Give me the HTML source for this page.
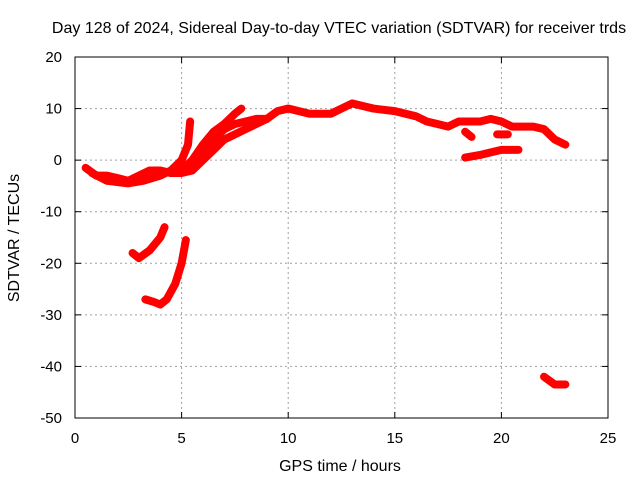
<!DOCTYPE html>
<html><head><meta charset="utf-8"><style>
body{margin:0;background:#fff;width:640px;height:480px;overflow:hidden}
svg text{font-family:"Liberation Sans",sans-serif;font-size:15px;fill:#000}
svg text.big{font-size:16px}
</style></head><body>
<svg id="chart" width="640" height="480">
<text class="big" x="339" y="33" text-anchor="middle">Day 128 of 2024, Sidereal Day-to-day VTEC variation (SDTVAR) for receiver trds</text>
<text class="big" x="340" y="471" text-anchor="middle">GPS time / hours</text>
<text class="big" transform="translate(19,238) rotate(-90)" text-anchor="middle">SDTVAR / TECUs</text>
<g id="grid"></g><g id="series"></g><g id="axes"></g>
</svg>
<script>
const xTicks=[0,5,10,15,20,25];
const yTicks=[20,10,0,-10,-20,-30,-40,-50];
const seriesA=[[0.5,-1.5],[1,-3],[1.5,-3],[2,-3.5],[2.5,-4],[3,-3],[3.5,-2],[4,-2],[4.5,-2.5],[5,-2.5],[5.5,-2],[6,0],[6.5,2],[7,4],[7.5,5],[8,6],[8.5,7],[9,8],[9.5,9.5],[10,10],[10.5,9.5],[11,9],[12,9],[12.5,10],[13,11],[13.5,10.5],[14,10],[15,9.5],[16,8.5],[16.5,7.5],[17,7],[17.5,6.5],[18,7.5],[18.5,7.5],[19,7.5],[19.5,8],[20,7.5],[20.5,6.5],[21,6.5],[21.5,6.5],[22,6],[22.5,4],[23,3]];
const seriesB=[[0.8,-2.5],[1.5,-4],[2.5,-4.5],[3.2,-4],[4,-3],[4.5,-2],[5,0],[5.3,3],[5.4,7.5]];
const seriesC=[[4.5,-2.5],[5,-2],[5.5,0],[6,3],[6.5,5.5],[7,7],[7.5,9],[7.8,10]];
const seriesD=[[5.5,-1],[6,1.5],[6.5,4],[7,6],[7.5,7],[8,7.5],[8.5,8],[9,8]];
const seriesE=[[18.3,0.5],[19,1],[19.5,1.5],[20,2],[20.5,2],[20.8,2]];
const seriesF=[[18.3,5.5],[18.6,4.5]];
const seriesG=[[19.8,5],[20.3,5]];
const seriesH=[[2.7,-18],[3,-19],[3.5,-17.5],[4,-15],[4.2,-13]];
const seriesI=[[3.3,-27],[3.7,-27.5],[4,-28],[4.3,-27],[4.7,-24],[5,-20],[5.2,-15.5]];
const seriesJ=[[22,-42],[22.5,-43.5],[23,-43.5]];
const allSeries=[seriesA,seriesB,seriesC,seriesD,seriesE,seriesF,seriesG,seriesH,seriesI,seriesJ];
const X0=75,X1=608,Y0=418,Y1=57;
const sx=v=>X0+(v-0)/25*(X1-X0);
const sy=v=>Y0-(v+50)/70*(Y0-Y1);
const NS="http://www.w3.org/2000/svg";
function mk(t,a,p){const e=document.createElementNS(NS,t);for(const k in a)e.setAttribute(k,a[k]);p.appendChild(e);return e;}
const grid=document.getElementById('grid'),axes=document.getElementById('axes'),ser=document.getElementById('series');
xTicks.forEach(t=>{const x=sx(t);
 if(t>0&&t<25){const l=mk('line',{x1:x,x2:x,y1:Y1,y2:Y0,stroke:'#a0a0a0','stroke-dasharray':'2,3'},grid);
 
 }
 mk('line',{x1:x,x2:x,y1:Y0,y2:Y0-6,stroke:'#000'},axes);mk('line',{x1:x,x2:x,y1:Y1,y2:Y1+6,stroke:'#000'},axes);
 const tx=mk('text',{x:x,y:Y0+25,'text-anchor':'middle'},axes);tx.textContent=t;
 
 });
yTicks.forEach(t=>{const y=sy(t);
 if(t>-50&&t<20){const l=mk('line',{x1:X0,x2:X1,y1:y,y2:y,stroke:'#a0a0a0','stroke-dasharray':'2,3'},grid);
 
 }
 mk('line',{x1:X0,x2:X0+6,y1:y,y2:y,stroke:'#000'},axes);mk('line',{x1:X1,x2:X1-6,y1:y,y2:y,stroke:'#000'},axes);
 const tx=mk('text',{x:X0-13,y:y+5,'text-anchor':'end'},axes);tx.textContent=t;
 
 });
const fr=mk('rect',{x:X0,y:Y1,width:X1-X0,height:Y0-Y1,fill:'none',stroke:'#000'},axes);


allSeries.forEach(s=>{
 const p=mk('polyline',{points:s.map(d=>sx(d[0])+','+sy(d[1])).join(' '),fill:'none',stroke:'#ff0000','stroke-width':8,'stroke-linejoin':'round','stroke-linecap':'round'},ser);
 
 
});
</script>
</body></html>
